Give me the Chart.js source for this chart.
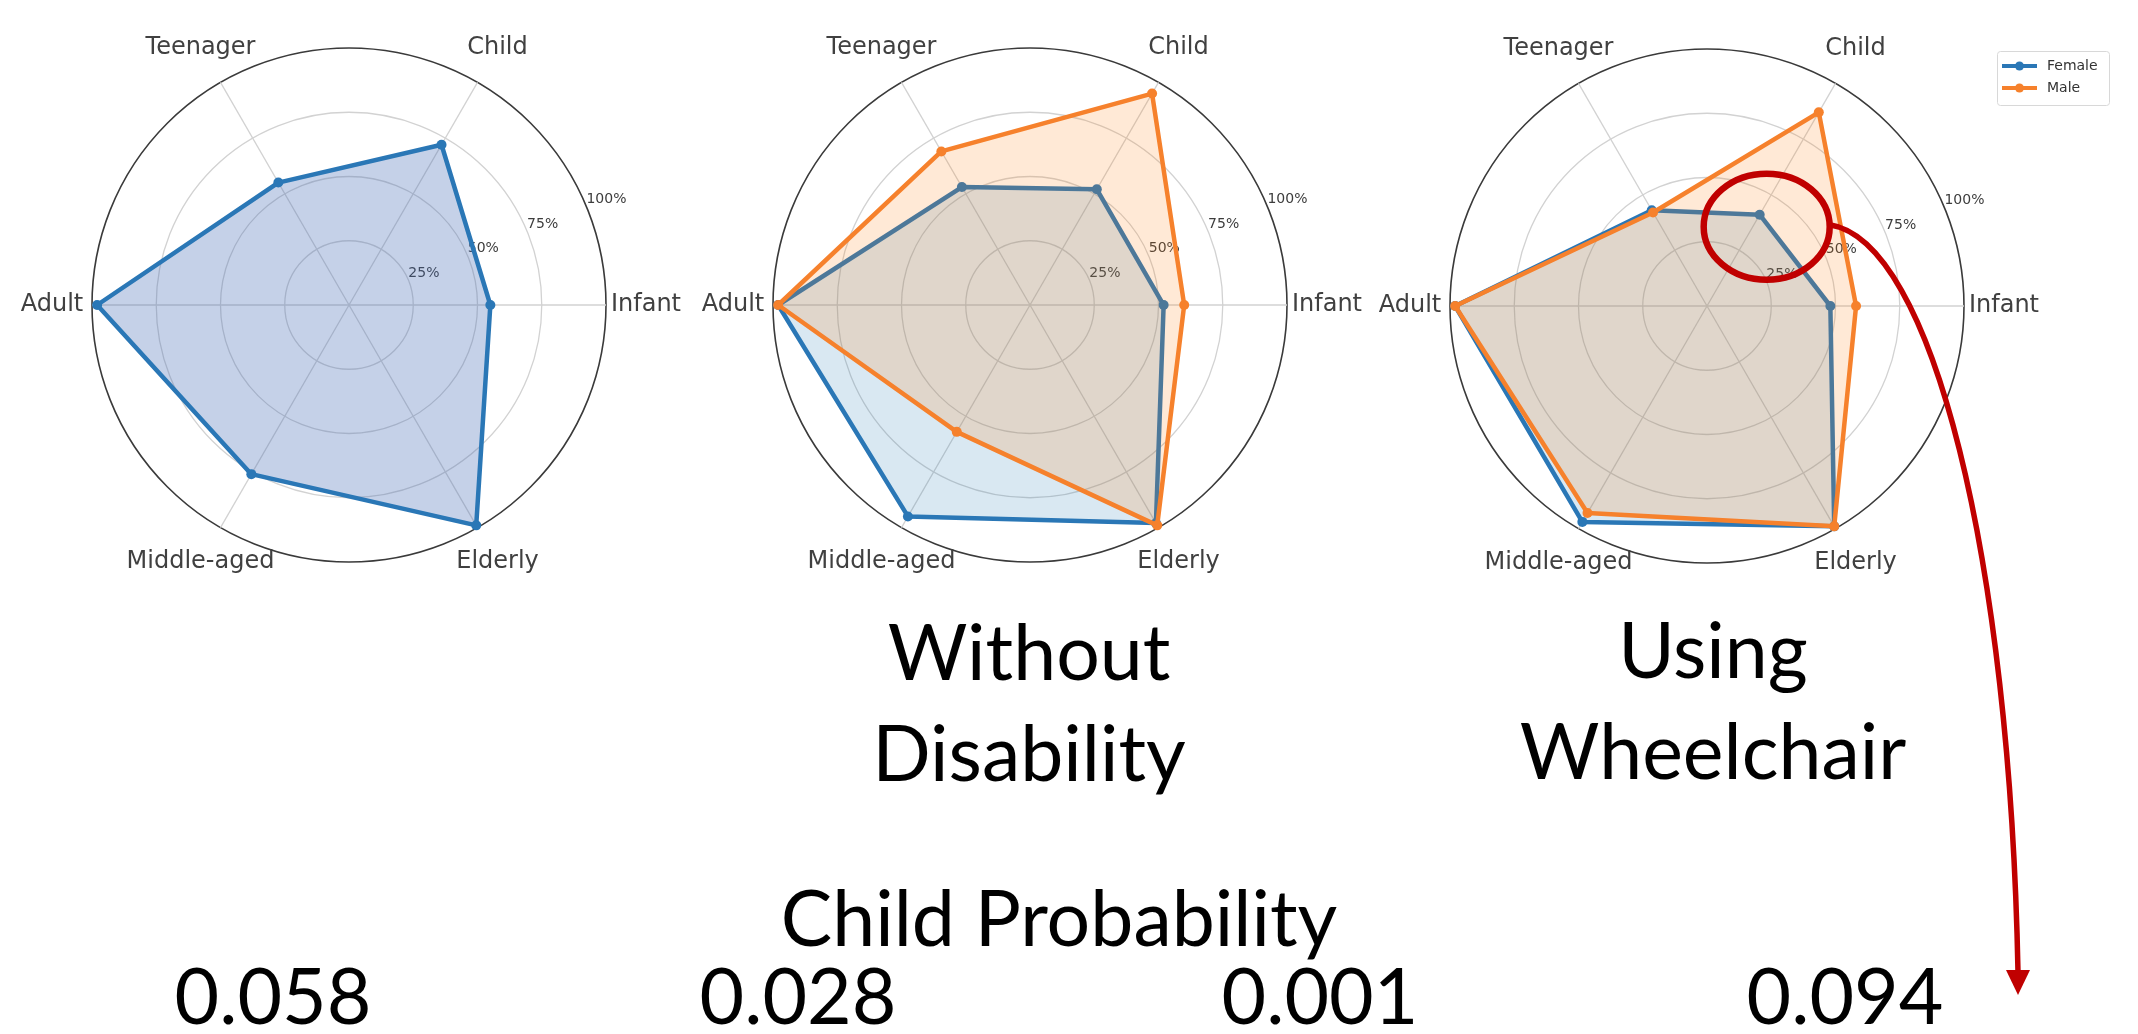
<!DOCTYPE html>
<html>
<head>
<meta charset="utf-8">
<title>Child probability radar</title>
<script src="https://cdn.jsdelivr.net/npm/chart.js@4.4.1/dist/chart.umd.min.js"></script>
<style>
  html, body { margin: 0; padding: 0; background: #fff; }
  #page { position: relative; width: 2138px; height: 1034px; overflow: hidden; }
  #page canvas { position: absolute; top: 0; }
  #captions { position: absolute; left: 0; top: 0; }
  #captions text { font-family: Lato, "Open Sans", sans-serif; font-size: 77px; fill: #000; text-anchor: middle; }
</style>
</head>
<body>
<div id="page">
  <canvas id="radarAll" width="690" height="640" style="left:0"></canvas>
  <canvas id="radarNoDis" width="670" height="640" style="left:700px"></canvas>
  <canvas id="radarWheel" width="768" height="1034" style="left:1370px"></canvas>
  <svg id="captions" width="2138" height="1034"></svg>
</div>
<script>
// age groups, listed counter-clockwise from the right like the original plot
const categories = ["Infant", "Child", "Teenager", "Adult", "Middle-aged", "Elderly"];
const tickValues = [25, 50, 75, 100];

// values in percent
const allValues = [55, 72, 55, 98, 76, 99];
const noDisFemale = [52, 52, 53, 98, 95, 98];
const noDisMale = [60, 95, 69, 98, 57, 99];
const wheelFemale = [48, 41, 43, 98, 97, 99];
const wheelMale = [58, 87, 42, 98, 93, 99];

const seriesNames = ["Female", "Male"];
const childProbability = ["0.058", "0.028", "0.001", "0.094"];

const BLUE = "#2a77b6";
const ORANGE = "#f6812c";

Chart.defaults.font.family = "'DejaVu Sans', sans-serif";
Chart.defaults.animation = false;

// Chart.js goes clockwise, matplotlib went counter-clockwise
const clockwise = [0, 5, 4, 3, 2, 1];
const cw = (arr) => clockwise.map((i) => arr[i]);

function series(label, values, color, fill, order) {
  return {
    label,
    data: cw(values),
    borderColor: color,
    backgroundColor: fill,
    pointBackgroundColor: color,
    pointBorderColor: color,
    pointBorderWidth: 0,
    pointRadius: 5,
    borderWidth: 4.5,
    borderJoinStyle: "round",
    fill: true,
    tension: 0,
    order,
    clip: false,
  };
}

// tick labels at 22.5deg and centred category labels, like matplotlib polar axes
const radarText = {
  id: "radarText",
  beforeDatasetsDraw(chart) {
    const r = chart.scales.r;
    const ctx = chart.ctx;
    const a = Math.PI / 8;
    ctx.save();
    ctx.font = "14px 'DejaVu Sans'";
    ctx.fillStyle = "#3d3d3d";
    ctx.textAlign = "left";
    ctx.textBaseline = "bottom";
    tickValues.forEach((v) => {
      const d = r.getDistanceFromCenterForValue(v);
      ctx.fillText(v + "%", r.xCenter + d * Math.cos(a), r.yCenter - d * Math.sin(a));
    });
    ctx.restore();
  },
  afterDraw(chart) {
    const r = chart.scales.r;
    const ctx = chart.ctx;
    ctx.save();
    ctx.font = "24px 'DejaVu Sans'";
    ctx.fillStyle = "#404040";
    ctx.textAlign = "center";
    ctx.textBaseline = "middle";
    chart.data.labels.forEach((label, i) => {
      const p = r.getPointPosition(i, r.drawingArea + 40);
      ctx.fillText(label, p.x, p.y);
    });
    ctx.restore();
  },
};

const legendBox = {
  id: "legendBox",
  afterDraw(chart) {
    const ctx = chart.ctx;
    const x = chart.chartArea.right + 33;
    const y = 51;
    ctx.save();
    ctx.fillStyle = "rgba(255,255,255,0.8)";
    ctx.strokeStyle = "#d8d8d8";
    ctx.lineWidth = 1;
    ctx.beginPath();
    ctx.roundRect(x + 0.5, y + 0.5, 112, 54, 3);
    ctx.fill();
    ctx.stroke();
    ctx.font = "14px 'DejaVu Sans'";
    ctx.textAlign = "left";
    ctx.textBaseline = "middle";
    chart.data.datasets.forEach((ds, i) => {
      const ly = y + 15 + i * 22;
      ctx.strokeStyle = ds.borderColor;
      ctx.lineWidth = 4;
      ctx.beginPath();
      ctx.moveTo(x + 5, ly);
      ctx.lineTo(x + 40, ly);
      ctx.stroke();
      ctx.fillStyle = ds.borderColor;
      ctx.beginPath();
      ctx.arc(x + 22.5, ly, 4.5, 0, Math.PI * 2);
      ctx.fill();
      ctx.fillStyle = "#333";
      ctx.fillText(ds.label, x + 50, ly);
    });
    ctx.restore();
  },
};

// red ring round the female Child point, with the arrow down to 0.094
const wheelNote = {
  id: "wheelNote",
  afterDraw(chart) {
    const idx = chart.data.labels.indexOf("Child");
    const pt = chart.getDatasetMeta(0).data[idx];
    const ctx = chart.ctx;
    const cx = pt.x + 7;
    const cy = pt.y + 12;
    const endX = chart.chartArea.right + 54;
    const endY = 972;
    ctx.save();
    ctx.strokeStyle = "#c00000";
    ctx.fillStyle = "#c00000";
    ctx.lineWidth = 6.5;
    ctx.beginPath();
    ctx.ellipse(cx, cy, 63, 53, 0, 0, Math.PI * 2);
    ctx.stroke();
    ctx.lineWidth = 5.5;
    ctx.beginPath();
    ctx.moveTo(cx + 63, cy - 2);
    ctx.bezierCurveTo(cx + 166, cy + 14, endX - 8, 560, endX, endY);
    ctx.stroke();
    ctx.beginPath();
    ctx.moveTo(endX - 12, endY - 2);
    ctx.lineTo(endX + 12, endY - 2);
    ctx.lineTo(endX, endY + 23);
    ctx.closePath();
    ctx.fill();
    ctx.restore();
  },
};

function radarOptions(padding) {
  return {
    responsive: false,
    layout: { padding },
    plugins: { legend: { display: false }, tooltip: { enabled: false } },
    scales: {
      r: {
        min: 0,
        max: 100,
        startAngle: 90,
        ticks: { display: false, stepSize: 25 },
        pointLabels: { display: false },
        grid: {
          circular: true,
          color: (c) => (c.tick && c.tick.value === 100 ? "#3a3a3a" : "#d2d2d2"),
          lineWidth: (c) => (c.tick && c.tick.value === 100 ? 1.6 : 1.3),
        },
        angleLines: { color: "#d2d2d2", lineWidth: 1.3 },
      },
    },
  };
}

new Chart(document.getElementById("radarAll"), {
  type: "radar",
  data: {
    labels: cw(categories),
    datasets: [series("All", allValues, BLUE, "rgba(68,105,180,0.31)", 0)],
  },
  options: radarOptions({ left: 92, top: 48, right: 84, bottom: 78 }),
  plugins: [radarText],
});

new Chart(document.getElementById("radarNoDis"), {
  type: "radar",
  data: {
    labels: cw(categories),
    datasets: [
      series(seriesNames[0], noDisFemale, BLUE, "rgba(31,119,180,0.17)", 1),
      series(seriesNames[1], noDisMale, ORANGE, "rgba(255,127,14,0.17)", 0),
    ],
  },
  options: radarOptions({ left: 73, top: 48, right: 83, bottom: 78 }),
  plugins: [radarText],
});

new Chart(document.getElementById("radarWheel"), {
  type: "radar",
  data: {
    labels: cw(categories),
    datasets: [
      series(seriesNames[0], wheelFemale, BLUE, "rgba(31,119,180,0.17)", 1),
      series(seriesNames[1], wheelMale, ORANGE, "rgba(255,127,14,0.17)", 0),
    ],
  },
  options: radarOptions({ left: 80, top: 49, right: 174, bottom: 471 }),
  plugins: [radarText, legendBox, wheelNote],
});

// captions below the charts
const captionLines = [
  ["Without", 1029, 680],
  ["Disability", 1029, 781],
  ["Using", 1713, 678],
  ["Wheelchair", 1713, 779],
  ["Child Probability", 1059, 946],
];
const probX = [273, 798, 1320, 1845];
const svg = document.getElementById("captions");
function addText(str, x, y) {
  const t = document.createElementNS("http://www.w3.org/2000/svg", "text");
  t.setAttribute("x", x);
  t.setAttribute("y", y);
  t.textContent = str;
  svg.appendChild(t);
}
captionLines.forEach(([s, x, y]) => addText(s, x, y));
childProbability.forEach((s, i) => addText(s, probX[i], 1024));
</script>
</body>
</html>
